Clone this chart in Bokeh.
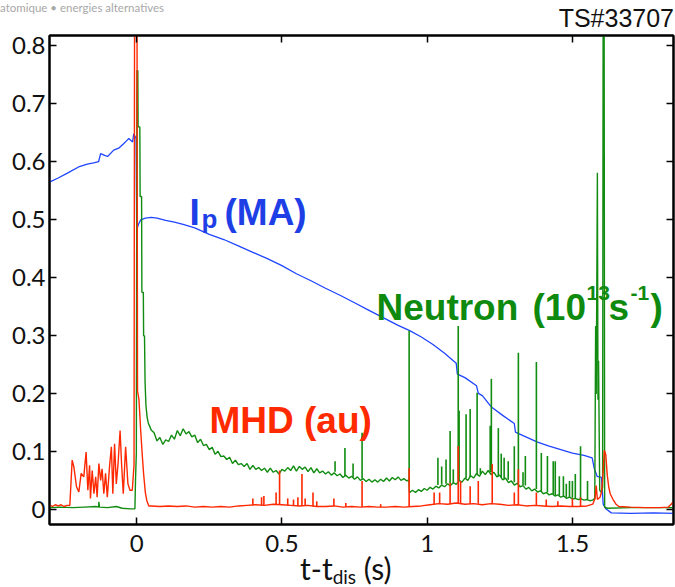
from bokeh.plotting import figure
from bokeh.models import Range1d, LinearAxis, FixedTicker, Label, Div
from bokeh.layouts import column
from bokeh.embed import file_html
from bokeh.resources import INLINE

# ---------------- data ----------------
# Plasma current Ip (MA)
ip_t = [-0.30, -0.27, -0.24, -0.20, -0.17, -0.148, -0.131, -0.124, -0.11, -0.10, -0.079,
        -0.06, -0.045, -0.035, -0.027, -0.014, -0.01, -0.002, 0.000, 0.006, 0.014, 0.03,
        0.05, 0.07, 0.10, 0.13, 0.16, 0.20, 0.25, 0.30, 0.35, 0.40, 0.45, 0.50, 0.55,
        0.60, 0.65, 0.70, 0.75, 0.80, 0.85, 0.90, 0.94, 0.98, 1.02, 1.06, 1.10, 1.104,
        1.13, 1.17, 1.176, 1.19, 1.22, 1.26, 1.30, 1.304, 1.33, 1.38, 1.42, 1.46, 1.50,
        1.54, 1.568, 1.575, 1.585, 1.60, 1.606, 1.615, 1.634, 1.70, 1.78, 1.85]
ip_v = [0.565, 0.572, 0.580, 0.591, 0.596, 0.598, 0.600, 0.614, 0.611, 0.609, 0.620,
        0.624, 0.631, 0.636, 0.640, 0.634, 0.648, 0.640, 0.482, 0.492, 0.500, 0.503,
        0.504, 0.503, 0.499, 0.496, 0.492, 0.486, 0.475, 0.466, 0.455, 0.444, 0.433, 0.421, 0.407,
        0.395, 0.382, 0.370, 0.357, 0.344, 0.331, 0.318, 0.309, 0.298, 0.285, 0.270, 0.253, 0.234,
        0.228, 0.214, 0.201, 0.197, 0.178, 0.163, 0.149, 0.134, 0.128, 0.117, 0.110, 0.104, 0.098,
        0.094, 0.090, 0.072, 0.058, 0.056, 0.010, 0.002, -0.005, -0.006, -0.005, -0.006]

# Neutron rate (1e13 /s), continuous trace
neutron_t = [-0.30, -0.26, -0.22, -0.18, -0.14, -0.131, -0.130, -0.128, -0.10, -0.07, -0.05,
             -0.02, -0.006, -0.004, -0.001, 0.001, 0.004, 0.005, 0.011, 0.012, 0.017, 0.018,
             0.023, 0.024, 0.027, 0.029, 0.032, 0.036,
             0.04, 0.05, 0.06, 0.07, 0.08, 0.09, 0.10, 0.11, 0.12, 0.13, 0.14, 0.15, 0.16,
             0.17, 0.18, 0.19, 0.20, 0.21, 0.22, 0.23, 0.24, 0.25, 0.26, 0.27, 0.28, 0.29,
             0.30, 0.31, 0.32, 0.33, 0.34, 0.35, 0.36, 0.37, 0.38, 0.39, 0.40, 0.41, 0.42,
             0.43, 0.44, 0.45, 0.46, 0.47, 0.48, 0.49, 0.50, 0.51, 0.52, 0.53, 0.54, 0.55,
             0.56, 0.57, 0.58, 0.59, 0.60, 0.61, 0.62, 0.63, 0.64, 0.65, 0.66, 0.67, 0.68,
             0.69, 0.70, 0.71, 0.72, 0.73, 0.74, 0.75, 0.76, 0.77, 0.78, 0.79, 0.80, 0.81,
             0.82, 0.83, 0.84, 0.85, 0.86, 0.87, 0.88, 0.89, 0.90, 0.91, 0.92, 0.93, 0.937,
             0.939, 0.95, 0.96, 0.97, 0.98, 0.99, 1.00, 1.01, 1.02, 1.03, 1.04, 1.05, 1.06,
             1.07, 1.08, 1.09, 1.10, 1.11, 1.12, 1.13, 1.14, 1.15, 1.16, 1.17, 1.18, 1.19,
             1.20, 1.21, 1.22, 1.23, 1.24, 1.25, 1.26, 1.27, 1.28, 1.29, 1.30, 1.31, 1.32,
             1.33, 1.34, 1.35, 1.36, 1.37, 1.38, 1.39, 1.40, 1.41, 1.42, 1.43, 1.44, 1.45,
             1.46, 1.47, 1.48, 1.49, 1.50, 1.51, 1.52, 1.53, 1.54, 1.55, 1.56, 1.57, 1.577,
             1.580, 1.582, 1.586, 1.588, 1.590, 1.594, 1.600, 1.604, 1.606, 1.609, 1.611,
             1.620, 1.70, 1.85]
neutron_v = [0.004, 0.005, 0.004, 0.005, 0.006, 0.005, 0.014, 0.005, 0.004, 0.006, 0.003,
             0.002, 0.002, 0.050, 0.100, 0.757, 0.757, 0.660, 0.660, 0.540, 0.540, 0.375,
             0.375, 0.300, 0.300, 0.220, 0.180, 0.160,
             0.150, 0.138, 0.133, 0.119, 0.125, 0.113, 0.121, 0.118, 0.129, 0.122, 0.137, 0.128, 0.140,
             0.131, 0.135, 0.126, 0.129, 0.116, 0.122, 0.111, 0.113, 0.104, 0.108, 0.096, 0.101, 0.092,
             0.093, 0.087, 0.091, 0.080, 0.086, 0.078, 0.080, 0.075, 0.080, 0.070, 0.077, 0.070, 0.073,
             0.068, 0.072, 0.065, 0.072, 0.065, 0.068, 0.062, 0.070, 0.067, 0.073, 0.068, 0.076, 0.067,
             0.075, 0.070, 0.074, 0.066, 0.073, 0.064, 0.071, 0.064, 0.067, 0.062, 0.066, 0.060, 0.064,
             0.059, 0.062, 0.056, 0.060, 0.055, 0.058, 0.053, 0.057, 0.051, 0.054, 0.049, 0.053, 0.048,
             0.052, 0.048, 0.053, 0.049, 0.055, 0.050, 0.056, 0.052, 0.057, 0.051, 0.054, 0.050, 0.052,
             0.030, 0.034, 0.030, 0.035, 0.032, 0.037, 0.034, 0.039, 0.036, 0.041, 0.038, 0.043, 0.040,
             0.045, 0.042, 0.047, 0.044, 0.051, 0.048, 0.055, 0.051, 0.059, 0.055, 0.063, 0.058, 0.067,
             0.061, 0.068, 0.061, 0.065, 0.057, 0.060, 0.052, 0.055, 0.047, 0.050, 0.043, 0.046, 0.040,
             0.042, 0.036, 0.039, 0.033, 0.036, 0.031, 0.033, 0.028, 0.030, 0.026, 0.028, 0.024, 0.026,
             0.022, 0.024, 0.020, 0.022, 0.019, 0.020, 0.018, 0.019, 0.017, 0.018, 0.016, 0.017, 0.020,
             0.317, 0.200, 0.581, 0.190, 0.257, 0.034, 0.030, 0.040, 0.950, 0.950, 0.005,
             0.003, 0.004, 0.004]

# Neutron spikes: time, base level, peak level
nspike_t = [0.683, 0.717, 0.745, 0.776, 0.938, 1.037, 1.050, 1.065, 1.079, 1.090, 1.107,
            1.110, 1.134, 1.148, 1.172, 1.183, 1.217, 1.221, 1.245, 1.255, 1.265, 1.279,
            1.300, 1.314, 1.330, 1.338, 1.376, 1.393, 1.414, 1.434, 1.441, 1.455, 1.469,
            1.479, 1.490, 1.500, 1.510, 1.528, 1.552]
nspike_base = [0.066, 0.058, 0.057, 0.054, 0.050, 0.043, 0.044, 0.045, 0.046, 0.047, 0.050,
               0.050, 0.055, 0.057, 0.060, 0.062, 0.065, 0.065, 0.058, 0.056, 0.054, 0.052,
               0.048, 0.046, 0.043, 0.042, 0.036, 0.032, 0.030, 0.027, 0.026, 0.025, 0.023,
               0.022, 0.021, 0.021, 0.020, 0.020, 0.018]
nspike_peak = [0.084, 0.107, 0.080, 0.133, 0.309, 0.090, 0.075, 0.087, 0.136, 0.070, 0.317,
               0.171, 0.165, 0.174, 0.202, 0.072, 0.145, 0.226, 0.141, 0.097, 0.090, 0.084,
               0.110, 0.271, 0.065, 0.093, 0.255, 0.098, 0.093, 0.084, 0.084, 0.058, 0.058,
               0.045, 0.050, 0.050, 0.062, 0.110, 0.050]

# MHD signal (a.u.), continuous trace
mhd_t = [-0.30, -0.29, -0.28, -0.27, -0.26, -0.25, -0.24, -0.230, -0.222, -0.216, -0.207,
         -0.199, -0.191, -0.182, -0.174, -0.168, -0.162, -0.159, -0.153, -0.147, -0.141,
         -0.136, -0.130, -0.124, -0.119, -0.113, -0.107, -0.101, -0.093, -0.087, -0.082,
         -0.076, -0.070, -0.064, -0.057, -0.052, -0.046, -0.038, -0.030, -0.023, -0.015,
         -0.009, -0.007, 0.001, 0.003, 0.008, 0.014, 0.020, 0.024, 0.030, 0.035, 0.042,
         0.05, 0.08, 0.11, 0.14, 0.17, 0.20, 0.23, 0.26, 0.29, 0.32, 0.35, 0.38, 0.41,
         0.44, 0.47, 0.50, 0.53, 0.56, 0.59, 0.62, 0.65, 0.68, 0.71, 0.74, 0.77, 0.80,
         0.83, 0.86, 0.89, 0.92, 0.95, 0.98, 1.01, 1.04, 1.07, 1.10, 1.13, 1.16, 1.19,
         1.22, 1.25, 1.28, 1.31, 1.34, 1.37, 1.40, 1.43, 1.46, 1.49, 1.52, 1.55, 1.57,
         1.578, 1.582, 1.586, 1.595, 1.600, 1.605, 1.610, 1.615, 1.620, 1.625, 1.630,
         1.64, 1.65, 1.66, 1.70, 1.75, 1.80, 1.83, 1.840, 1.845, 1.850]
mhd_v = [0.009, 0.006, 0.009, 0.007, 0.009, 0.006, 0.008, 0.008, 0.086, 0.074, 0.040,
         0.031, 0.063, 0.057, 0.100, 0.034, 0.077, 0.020, 0.068, 0.028, 0.057,
         0.022, 0.080, 0.051, 0.071, 0.028, 0.063, 0.022, 0.077, 0.109, 0.028,
         0.114, 0.045, 0.080, 0.137, 0.080, 0.028, 0.109, 0.045, 0.034, 0.034,
         0.078, 0.950, 0.950, 0.205, 0.190, 0.136, 0.090, 0.062, 0.030, 0.016, 0.007,
         0.007, 0.006, 0.007, 0.006, 0.007, 0.005, 0.006, 0.005, 0.006, 0.005, 0.007, 0.008, 0.009,
         0.008, 0.010, 0.009, 0.008, 0.007, 0.008, 0.006, 0.006, 0.007, 0.005, 0.006, 0.005, 0.006,
         0.005, 0.005, 0.006, 0.005, 0.006, 0.007, 0.009, 0.011, 0.010, 0.012, 0.010, 0.011, 0.009,
         0.011, 0.010, 0.008, 0.009, 0.007, 0.008, 0.007, 0.006, 0.007, 0.006, 0.006, 0.007, 0.010,
         0.020, 0.042, 0.018, 0.022, 0.030, 0.060, 0.103, 0.095, 0.060, 0.040, 0.028,
         0.018, 0.010, 0.006, 0.005, 0.004, 0.004, 0.005, 0.010, 0.013, 0.008]

# MHD spikes: time, base level, peak level
mspike_t = [0.400, 0.430, 0.438, 0.480, 0.492, 0.520, 0.540, 0.555, 0.569, 0.580, 0.607,
            0.620, 0.679, 0.720, 0.776, 0.840, 0.938, 1.024, 1.043, 1.079, 1.107, 1.115,
            1.148, 1.176, 1.224, 1.300, 1.314, 1.376, 1.410, 1.450, 1.500, 1.528]
mspike_base = [0.008, 0.008, 0.008, 0.009, 0.009, 0.008, 0.007, 0.007, 0.007, 0.008, 0.006,
               0.006, 0.007, 0.005, 0.005, 0.005, 0.006, 0.009, 0.011, 0.010, 0.012, 0.011,
               0.010, 0.011, 0.010, 0.009, 0.009, 0.008, 0.007, 0.007, 0.006, 0.006]
mspike_peak = [0.020, 0.022, 0.024, 0.030, 0.068, 0.020, 0.018, 0.022, 0.062, 0.020, 0.030,
               0.015, 0.020, 0.012, 0.050, 0.010, 0.072, 0.030, 0.030, 0.047, 0.110, 0.050,
               0.041, 0.050, 0.079, 0.030, 0.070, 0.030, 0.018, 0.015, 0.020, 0.022]

x_ticks = [0, 0.5, 1, 1.5]
x_tick_labels = ["0", "0.5", "1", "1.5"]
y_ticks = [0, 0.1, 0.2, 0.3, 0.4, 0.5, 0.6, 0.7, 0.8]
y_tick_labels = ["0", "0.1", "0.2", "0.3", "0.4", "0.5", "0.6", "0.7", "0.8"]

# ---------------- styling ----------------
BLUE = "#1f45ff"
GREEN = "#118c11"
RED = "#ff2800"
BLUE_T = "#1f3fe6"
GREEN_T = "#0e8a0e"
RED_T = "#ff2a00"
TICK_FONT = "Lato"
BOLD_FONT = "Liberation Sans"

W = 675
TOP_H, BOT_H = 30, 24
PH = 587 - TOP_H - BOT_H          # figure height
BL, BR, BT, BB = 49, 2, 5, 39     # frame spans page x 49..673, y 35..524
X0, X1 = -0.3, 1.848
Y0, Y1 = -0.025, 0.8175

p = figure(width=W, height=PH, x_range=Range1d(X0, X1), y_range=Range1d(Y0, Y1),
           output_backend="svg", toolbar_location=None,
           min_border_left=BL, min_border_right=BR, min_border_top=BT, min_border_bottom=BB,
           x_axis_location=None, y_axis_location=None, margin=0)
p.xgrid.visible = False
p.ygrid.visible = False
p.outline_line_color = "black"
p.outline_line_width = 2
p.background_fill_color = "white"
p.border_fill_color = "white"


def style_axis(ax, ticks, labels, show_labels, standoff):
    ax.ticker = FixedTicker(ticks=ticks)
    ax.minor_tick_line_color = None
    ax.major_tick_in = 7
    ax.major_tick_out = 0
    ax.major_tick_line_width = 1.5
    ax.major_tick_line_color = "black"
    ax.axis_line_width = 2
    ax.axis_line_color = "black"
    if show_labels:
        ax.major_label_overrides = {t: l for t, l in zip(ticks, labels)}
        ax.major_label_text_font = TICK_FONT
        ax.major_label_text_font_size = "24px"
        ax.major_label_text_color = "#111111"
        ax.major_label_standoff = standoff
    else:
        ax.major_label_text_font_size = "1px"
        ax.major_label_text_color = None
        ax.major_label_standoff = 0


xb = LinearAxis(); style_axis(xb, x_ticks, x_tick_labels, True, 10); p.add_layout(xb, "below")
yl = LinearAxis(); style_axis(yl, y_ticks, y_tick_labels, True, 4); p.add_layout(yl, "left")
xa = LinearAxis(); style_axis(xa, x_ticks, x_tick_labels, False, 0); p.add_layout(xa, "above")
yr = LinearAxis(); style_axis(yr, y_ticks, y_tick_labels, False, 0); p.add_layout(yr, "right")

# traces
p.line(ip_t, ip_v, line_color=BLUE, line_width=1.3)
p.line(neutron_t, neutron_v, line_color=GREEN, line_width=1.4)
p.segment(nspike_t, nspike_base, nspike_t, nspike_peak, line_color=GREEN, line_width=1.6)
p.line(mhd_t, mhd_v, line_color=RED, line_width=1.4)
p.segment(mspike_t, mspike_base, mspike_t, mspike_peak, line_color=RED, line_width=1.6)


# ---------------- in-plot text (positions given in page pixels) ----------------
def dx(px):
    return X0 + (px - BL) / (W - BL - BR) * (X1 - X0)


def dy(py):
    y_in_fig = py - TOP_H
    return Y1 - (y_in_fig - BT) / (PH - BT - BB) * (Y1 - Y0)


def add_text(txt, px, py, size, color, font=BOLD_FONT, style="bold", align="left"):
    p.add_layout(Label(x=dx(px), y=dy(py), text=txt, text_font=font,
                       text_font_size=f"{size}px", text_color=color,
                       text_font_style=style, text_align=align,
                       text_baseline="alphabetic"))


# Ip label
add_text("I", 189, 212, 37, BLUE_T)
add_text("p", 201, 218, 26, BLUE_T)
add_text("(MA)", 224, 212, 37, BLUE_T)
# MHD label
add_text("MHD (au)", 209, 420, 37, RED_T)
# Neutron label
add_text("Neutron", 376, 307, 37, GREEN_T)
add_text("(10", 532, 307, 37, GREEN_T)
add_text("13", 586, 292, 21, GREEN_T)
add_text("s", 608, 307, 37, GREEN_T)
add_text("-1", 630, 292, 21, GREEN_T)
add_text(")", 650, 307, 37, GREEN_T)

# ---------------- texts outside the axes box ----------------
top_html = (
    '<div style="position:relative;width:675px;height:30px;overflow:visible;">'
    '<span style="position:absolute;left:0px;top:2px;white-space:nowrap;'
    'font-family:Lato;font-size:11.5px;line-height:11px;color:#a8a8a8;">'
    'atomique \u2022 energies alternatives</span>'
    '<span style="position:absolute;right:1px;top:6px;white-space:nowrap;'
    'font-family:\'Liberation Sans\';font-size:25px;line-height:25px;color:#111111;">'
    'TS#33707</span></div>'
)
bot_html = (
    '<div style="position:relative;width:675px;height:24px;overflow:visible;">'
    '<span style="position:absolute;left:300px;top:-10px;white-space:nowrap;'
    'font-family:Lato;font-size:30px;line-height:30px;color:#111111;">'
    't-t<span style="font-size:19px;position:relative;top:4px;">dis</span> (s)</span></div>'
)
top_div = Div(text=top_html, width=W, height=TOP_H, margin=0, styles={"overflow": "visible"})
bot_div = Div(text=bot_html, width=W, height=BOT_H, margin=0, styles={"overflow": "visible"})

layout = column(top_div, p, bot_div, spacing=0, margin=0)
open("out.html", "w").write(file_html(layout, INLINE))
